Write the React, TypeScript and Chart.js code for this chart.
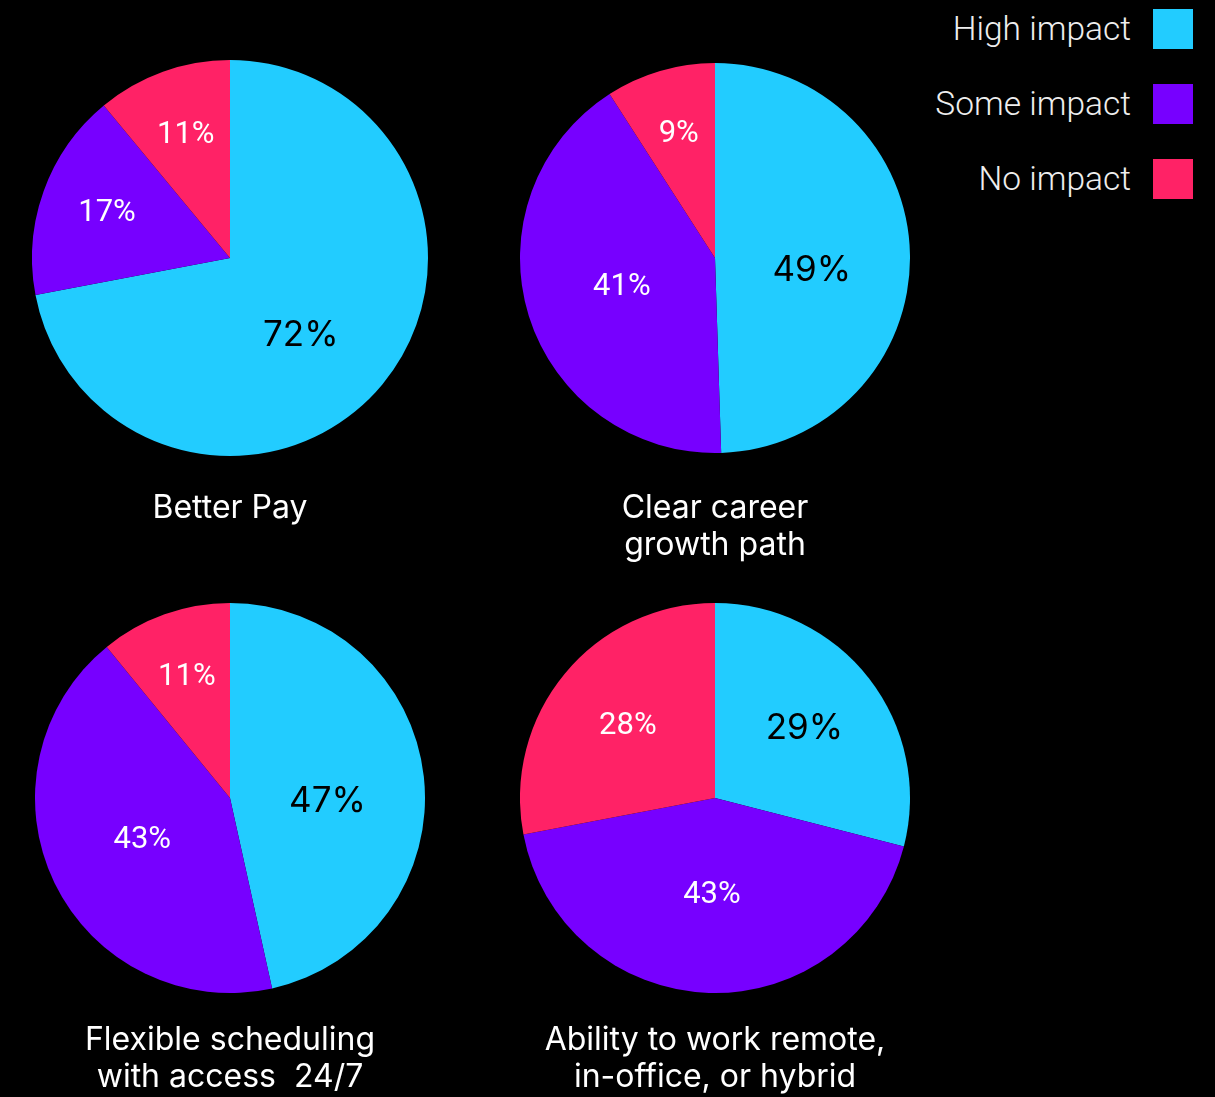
import React, { useEffect, useRef } from "react";
import { Chart, registerables } from "chart.js";

Chart.register(...registerables);

const segmentLabels = ["High impact", "Some impact", "No impact"];
const segmentColors = ["#22CCFF", "#7700FF", "#FF2266"];

const betterPay = [72, 17, 11];
const careerGrowth = [49, 41, 9];
const flexibleScheduling = [47, 43, 11];
const workLocation = [29, 43, 28];

const titleBetterPay = ["Better Pay"];
const titleCareer = ["Clear career", "growth path"];
const titleFlexible = ["Flexible scheduling", "with access  24/7"];
const titleLocation = ["Ability to work remote,", "in-office, or hybrid"];

const FONT = "Roboto, 'Open Sans', sans-serif";
const TITLE_FONT = "Inter, Roboto, sans-serif";

const pctLabelPlugin = {
  id: "pctLabels",
  afterDatasetsDraw(chart: any) {
    const { ctx } = chart;
    const meta = chart.getDatasetMeta(0);
    const values = chart.data.datasets[0].data as number[];
    meta.data.forEach((arc: any, i: number) => {
      const { x, y, startAngle, endAngle, outerRadius } = arc.getProps(
        ["x", "y", "startAngle", "endAngle", "outerRadius"],
        true
      );
      const v = values[i];
      let mid = (startAngle + endAngle) / 2;
      let frac = v >= 40 ? 0.5 : v >= 20 ? 0.58 : 0.66;
      if (i === 0 && v >= 40) {
        mid += 8 * (Math.PI / 180);
        if (v >= 60) frac = 0.53;
      }
      const r = outerRadius * frac;
      const lx = x + Math.cos(mid) * r;
      const ly = y + Math.sin(mid) * r;
      ctx.save();
      ctx.textAlign = "center";
      ctx.textBaseline = "middle";
      if (i === 0) {
        ctx.fillStyle = "#000000";
        ctx.font = `400 35px ${TITLE_FONT}`;
      } else {
        ctx.fillStyle = "#FFFFFF";
        ctx.font = `400 31px ${FONT}`;
      }
      ctx.fillText(`${v}%`, lx, ly);
      ctx.restore();
    });
  },
};

type PieProps = {
  values: number[];
  title: string[];
  left: number;
  top: number;
  size: number;
  titlePad: number;
};

function PieBox({ values, title, left, top, size, titlePad }: PieProps) {
  const ref = useRef<HTMLCanvasElement | null>(null);
  const lineH = 37;
  const height = size + titlePad + lineH * title.length;
  useEffect(() => {
    if (!ref.current) return;
    const chart = new Chart(ref.current, {
      type: "pie",
      data: {
        labels: segmentLabels,
        datasets: [
          {
            data: values,
            backgroundColor: segmentColors,
            borderWidth: 0,
          },
        ],
      },
      options: {
        animation: false,
        responsive: false,
        maintainAspectRatio: false,
        devicePixelRatio: 1,
        layout: { padding: 0 },
        plugins: {
          legend: { display: false },
          tooltip: { enabled: false },
          title: {
            display: true,
            position: "bottom",
            text: title,
            color: "#FFFFFF",
            font: { family: TITLE_FONT, size: 32, weight: "400", lineHeight: lineH / 32 },
            padding: { top: titlePad, bottom: 0 },
          },
        },
      },
      plugins: [pctLabelPlugin],
    });
    return () => chart.destroy();
  }, []);
  return (
    <canvas
      ref={ref}
      width={size}
      height={height}
      style={{ position: "absolute", left, top, width: size, height }}
    />
  );
}

export default function App() {
  useEffect(() => {
    document.body.style.margin = "0";
    document.body.style.background = "#000";
  }, []);
  const legendTops = [9, 84, 159];
  return (
    <div
      style={{
        position: "fixed",
        left: 0,
        top: 0,
        width: 1215,
        height: 1097,
        background: "#000",
        overflow: "hidden",
      }}
    >
      <PieBox values={betterPay} title={titleBetterPay} left={32} top={60} size={396} titlePad={34} />
      <PieBox values={careerGrowth} title={titleCareer} left={520} top={63} size={390} titlePad={37} />
      <PieBox values={flexibleScheduling} title={titleFlexible} left={35} top={603} size={390} titlePad={29} />
      <PieBox values={workLocation} title={titleLocation} left={520} top={603} size={390} titlePad={29} />
      {segmentLabels.map((lab, i) => (
        <div key={lab}>
          <div
            style={{
              position: "absolute",
              right: 1215 - 1131,
              top: legendTops[i],
              height: 40,
              lineHeight: "40px",
              fontFamily: FONT,
              fontWeight: 300,
              fontSize: 33.5,
              color: "#EEEEEE",
              whiteSpace: "nowrap",
            }}
          >
            {lab}
          </div>
          <div
            style={{
              position: "absolute",
              left: 1153,
              top: legendTops[i],
              width: 40,
              height: 40,
              background: segmentColors[i],
            }}
          />
        </div>
      ))}
    </div>
  );
}
